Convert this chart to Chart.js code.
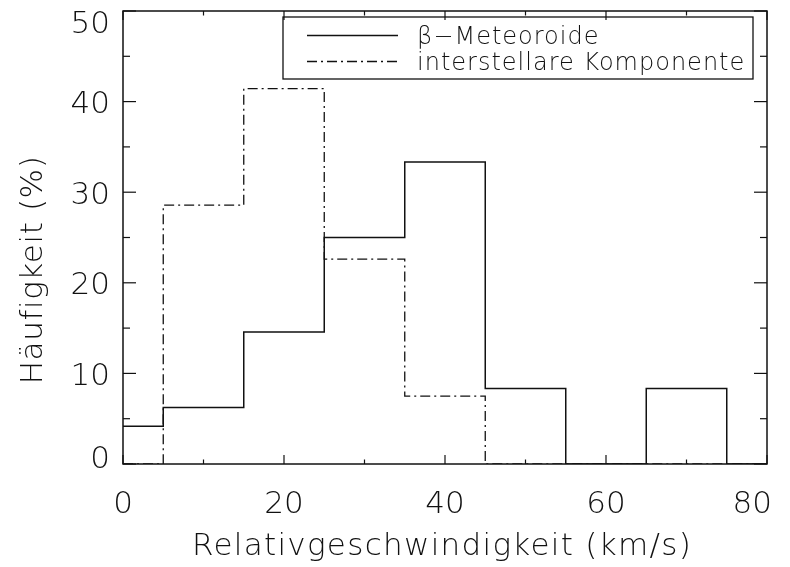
<!DOCTYPE html>
<html>
<head>
<meta charset="utf-8">
<script src="https://cdn.jsdelivr.net/npm/chart.js@4/dist/chart.umd.min.js"></script>
<style>
  html, body { margin: 0; padding: 0; background: #fff; }
  #wrap { width: 790px; height: 567px; }
</style>
</head>
<body>
<div id="wrap"><canvas id="hist" width="790" height="567"></canvas></div>
<script>
// bin edges (km/s) and frequency per bin (%), last edge closes the histogram
const binEdges = [0, 5, 15, 25, 35, 45, 55, 65, 75, 80];
const betaMeteoroide = [4.17, 6.25, 14.58, 25.0, 33.33, 8.33, 0, 8.33, 0, 0];
const interstellarComp = [0, 28.57, 41.43, 22.62, 7.5, 0, 0, 0, 0, 0];

const seriesLabels = ['\u03B2\u2212Meteoroide', 'interstellare Komponente'];
const xTickLabels = [0, 20, 40, 60, 80];
const xMinorTicks = [10, 30, 50, 70];
const yTickLabels = [0, 10, 20, 30, 40, 50];
const yMinorTicks = [5, 15, 25, 35, 45];

const xTitle = 'Relativgeschwindigkeit (km/s)';
const yTitle = 'H\u00E4ufigkeit (%)';

const INK = '#111';
const FONT = '"DejaVu Sans ExtraLight", "DejaVu Sans", sans-serif';
const dashDot = [10, 4, 2, 4];

function toPoints(vals) {
    return binEdges.map((x, i) => ({ x: x, y: vals[i] }));
}

// frame with inward ticks on all four sides, tick labels, titles and legend
const idlFrame = {
    id: 'idlFrame',
    afterDraw(chart) {
        const ctx = chart.ctx;
        const a = chart.chartArea;
        const xs = chart.scales.x;
        const ys = chart.scales.y;
        ctx.save();
        ctx.strokeStyle = INK;
        ctx.fillStyle = INK;
        ctx.lineWidth = 1.5;
        ctx.strokeRect(a.left, a.top, a.right - a.left, a.bottom - a.top);

        ctx.lineWidth = 1.2;
        const tick = (x1, y1, x2, y2) => {
            ctx.beginPath(); ctx.moveTo(x1, y1); ctx.lineTo(x2, y2); ctx.stroke();
        };
        xTickLabels.forEach(v => {
            const px = xs.getPixelForValue(v);
            tick(px, a.bottom, px, a.bottom - 9);
            tick(px, a.top, px, a.top + 9);
        });
        xMinorTicks.forEach(v => {
            const px = xs.getPixelForValue(v);
            tick(px, a.bottom, px, a.bottom - 4.5);
            tick(px, a.top, px, a.top + 4.5);
        });
        yTickLabels.forEach(v => {
            const py = ys.getPixelForValue(v);
            tick(a.left, py, a.left + 13, py);
            tick(a.right, py, a.right - 13, py);
        });
        yMinorTicks.forEach(v => {
            const py = ys.getPixelForValue(v);
            tick(a.left, py, a.left + 7, py);
            tick(a.right, py, a.right - 7, py);
        });

        // tick labels, end labels kept inside the axis range
        ctx.font = '200 31px ' + FONT;
        ctx.textBaseline = 'alphabetic';
        ctx.textAlign = 'right';
        yTickLabels.forEach(v => {
            let cy = ys.getPixelForValue(v);
            cy = Math.max(a.top + 10.5, Math.min(a.bottom - 8, cy));
            ctx.fillText(String(v), a.left - 13, cy + 11.5);
        });
        ctx.textAlign = 'center';
        xTickLabels.forEach(v => {
            let px = xs.getPixelForValue(v);
            const half = ctx.measureText(String(v)).width / 2;
            px = Math.min(px, a.right + 5 - half);
            ctx.fillText(String(v), px, a.bottom + 49);
        });

        // axis titles
        ctx.letterSpacing = '1.3px';
        ctx.fillText(xTitle, (a.left + a.right) / 2 - 3, a.bottom + 91);
        ctx.save();
        ctx.translate(42, 270);
        ctx.rotate(-Math.PI / 2);
        ctx.letterSpacing = '0.6px';
        ctx.fillText(yTitle, 0, 0);
        ctx.restore();

        // legend box in the upper right corner
        const bx = 283, by = 17, bw = 470, bh = 62;
        ctx.lineWidth = 1.3;
        ctx.strokeRect(bx, by, bw, bh);
        ctx.font = '200 24px ' + FONT;
        ctx.letterSpacing = '1px';
        ctx.textAlign = 'left';
        chart.data.datasets.forEach((ds, i) => {
            const ry = by + 18.5 + i * 26;
            ctx.save();
            ctx.lineWidth = 1.4;
            ctx.setLineDash(ds.borderDash || []);
            ctx.beginPath();
            ctx.moveTo(bx + 24, ry);
            ctx.lineTo(bx + 115, ry);
            ctx.stroke();
            ctx.restore();
            ctx.fillText(ds.label, bx + 134, ry + 8.5);
        });
        ctx.restore();
    }
};

const ctx = document.getElementById('hist').getContext('2d');
new Chart(ctx, {
    type: 'line',
    data: {
        datasets: [
            {
                label: seriesLabels[0],
                data: toPoints(betaMeteoroide),
                stepped: 'before',
                borderColor: INK,
                borderWidth: 1.5,
                pointRadius: 0,
                fill: false,
            },
            {
                label: seriesLabels[1],
                data: toPoints(interstellarComp),
                stepped: 'before',
                borderColor: INK,
                borderWidth: 1.3,
                borderDash: dashDot,
                pointRadius: 0,
                fill: false,
            },
        ],
    },
    options: {
        responsive: false,
        animation: false,
        devicePixelRatio: 1,
        layout: { padding: { left: 123, top: 11, right: 23, bottom: 103 } },
        plugins: {
            legend: { display: false },
            tooltip: { enabled: false },
        },
        scales: {
            x: { type: 'linear', min: 0, max: 80, display: false },
            y: { type: 'linear', min: 0, max: 50, display: false },
        },
    },
    plugins: [idlFrame],
});
</script>
</body>
</html>
